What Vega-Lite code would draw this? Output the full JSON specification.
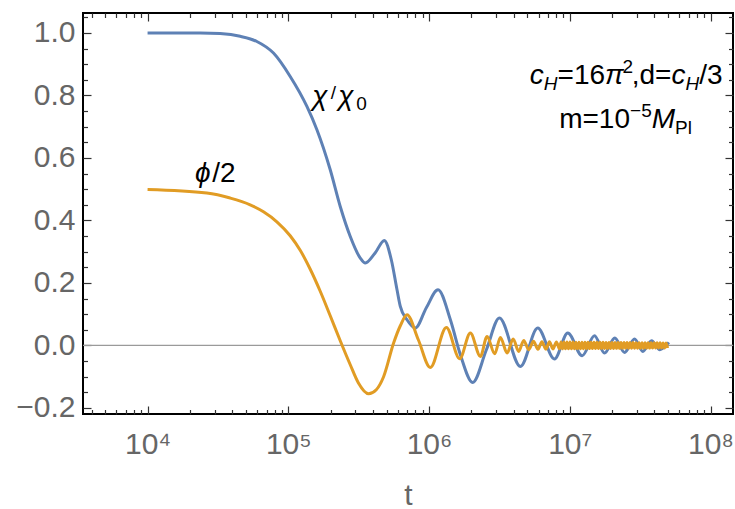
{
  "$schema": "https://vega.github.io/schema/vega-lite/v6.json",
  "autosize": {"type": "none"},
  "padding": {"left": 83, "top": 13, "right": 2, "bottom": 95},
  "width": 650,
  "height": 401,
  "background": "white",
  "config": {"view": {"stroke": "#000000", "strokeWidth": 2}},
  "datasets": {
    "blue": [
      {"t": 10000, "y": 1.0}, {"t": 23620, "y": 1.0}, {"t": 32780, "y": 0.998}, {"t": 45490, "y": 0.9894},
      {"t": 59790, "y": 0.9728}, {"t": 78460, "y": 0.9357}, {"t": 103160, "y": 0.8608}, {"t": 135600, "y": 0.7648},
      {"t": 159700, "y": 0.6902}, {"t": 198600, "y": 0.5622}, {"t": 233900, "y": 0.4448}, {"t": 275600, "y": 0.3488},
      {"t": 324600, "y": 0.2797}, {"t": 352300, "y": 0.2637}, {"t": 415000, "y": 0.2966}, {"t": 481000, "y": 0.336},
      {"t": 539400, "y": 0.2742}, {"t": 592200, "y": 0.1782}, {"t": 625100, "y": 0.1248}, {"t": 697500, "y": 0.0822},
      {"t": 799000, "y": 0.0557}, {"t": 956800, "y": 0.1206}, {"t": 1159000, "y": 0.1782}, {"t": 1418000, "y": 0.0822},
      {"t": 1670000, "y": -0.0298}, {"t": 2042000, "y": -0.1184}, {"t": 2556000, "y": -0.0138}, {"t": 3162000, "y": 0.0877},
      {"t": 4460000, "y": -0.0672}, {"t": 5920000, "y": 0.0557}, {"t": 7784000, "y": -0.0435}, {"t": 9678000, "y": 0.0397},
      {"t": 12250000, "y": -0.033}, {"t": 14985000, "y": 0.031}, {"t": 17653000, "y": -0.0243}, {"t": 20890000, "y": 0.0237},
      {"t": 24490000, "y": -0.0224}, {"t": 28860000, "y": 0.0205}, {"t": 33050000, "y": -0.0192}, {"t": 38110000, "y": 0.015},
      {"t": 43670000, "y": -0.0138}, {"t": 50600000, "y": 0.0096}
    ],
    "orange": [
      {"t": 10000, "y": 0.4992}, {"t": 26370, "y": 0.4877}, {"t": 38630, "y": 0.4717}, {"t": 53580, "y": 0.4502},
      {"t": 66620, "y": 0.4278}, {"t": 82950, "y": 0.3958}, {"t": 103160, "y": 0.351}, {"t": 121500, "y": 0.3046},
      {"t": 143200, "y": 0.2438}, {"t": 168600, "y": 0.1734}, {"t": 198600, "y": 0.095}, {"t": 233900, "y": 0.015},
      {"t": 275600, "y": -0.0618}, {"t": 314200, "y": -0.1194}, {"t": 371900, "y": -0.1546}, {"t": 421900, "y": -0.1418},
      {"t": 475500, "y": -0.1002}, {"t": 560100, "y": 0.0077}, {"t": 625100, "y": 0.063}, {"t": 697500, "y": 0.0982},
      {"t": 839200, "y": 0.0182}, {"t": 1021400, "y": -0.0704}, {"t": 1327400, "y": 0.0576}, {"t": 1650700, "y": -0.0426},
      {"t": 1966600, "y": 0.0397}, {"t": 2317300, "y": -0.0352}, {"t": 2585600, "y": 0.0288}, {"t": 2928200, "y": -0.0266},
      {"t": 3214600, "y": 0.0256}, {"t": 3588000, "y": -0.0243}, {"t": 3958000, "y": 0.0205}, {"t": 4339000, "y": -0.0192},
      {"t": 4708000, "y": 0.016}, {"t": 5110000, "y": -0.0138},
      {"t": 5520000, "y": 0.013}, {"t": 5940000, "y": -0.0125}, {"t": 6340000, "y": 0.012}, {"t": 6770000, "y": -0.0118},
      {"t": 7170000, "y": 0.0116}, {"t": 7590000, "y": -0.0114}, {"t": 8040000, "y": 0.0112},
      {"t": 8450000, "y": -0.011}, {"t": 8660000, "y": 0.011}, {"t": 8870000, "y": -0.0109}, {"t": 9090000, "y": 0.0109},
      {"t": 9320000, "y": -0.0108}, {"t": 9550000, "y": 0.0108}, {"t": 9790000, "y": -0.0108}, {"t": 10030000, "y": 0.0107},
      {"t": 10280000, "y": -0.0107}, {"t": 10540000, "y": 0.0106}, {"t": 10800000, "y": -0.0106}, {"t": 11070000, "y": 0.0105},
      {"t": 11340000, "y": -0.0105}, {"t": 11620000, "y": 0.0105}, {"t": 11910000, "y": -0.0104}, {"t": 12210000, "y": 0.0104},
      {"t": 12510000, "y": -0.0103}, {"t": 12820000, "y": 0.0103}, {"t": 13150000, "y": -0.0103}, {"t": 13480000, "y": 0.0102},
      {"t": 13810000, "y": -0.0102}, {"t": 14150000, "y": 0.0101}, {"t": 14500000, "y": -0.0101}, {"t": 14860000, "y": 0.01},
      {"t": 15230000, "y": -0.01}, {"t": 15610000, "y": 0.01}, {"t": 16000000, "y": -0.0099}, {"t": 16400000, "y": 0.0099},
      {"t": 16810000, "y": -0.0098}, {"t": 17230000, "y": 0.0098}, {"t": 17660000, "y": -0.0097}, {"t": 18100000, "y": 0.0097},
      {"t": 18540000, "y": -0.0097}, {"t": 19000000, "y": 0.0096}, {"t": 19480000, "y": -0.0096}, {"t": 19960000, "y": 0.0095},
      {"t": 20460000, "y": -0.0095}, {"t": 20970000, "y": 0.0095}, {"t": 21490000, "y": -0.0094}, {"t": 22020000, "y": 0.0094},
      {"t": 22570000, "y": -0.0093}, {"t": 23130000, "y": 0.0093}, {"t": 23710000, "y": -0.0093}, {"t": 24300000, "y": 0.0092},
      {"t": 24900000, "y": -0.0092}, {"t": 25520000, "y": 0.0091}, {"t": 26160000, "y": -0.0091}, {"t": 26810000, "y": 0.009},
      {"t": 27470000, "y": -0.009}, {"t": 28150000, "y": 0.009}, {"t": 28860000, "y": -0.0089}, {"t": 29580000, "y": 0.0089},
      {"t": 30310000, "y": -0.0088}, {"t": 31060000, "y": 0.0088}, {"t": 31840000, "y": -0.0088}, {"t": 32630000, "y": 0.0087},
      {"t": 33440000, "y": -0.0087}, {"t": 34270000, "y": 0.0086}, {"t": 35130000, "y": -0.0086}, {"t": 36000000, "y": 0.0085},
      {"t": 36900000, "y": -0.0085}, {"t": 37820000, "y": 0.0085}, {"t": 38760000, "y": -0.0084}, {"t": 39720000, "y": 0.0084},
      {"t": 40710000, "y": -0.0083}, {"t": 41720000, "y": 0.0083}, {"t": 42760000, "y": -0.0083}, {"t": 43820000, "y": 0.0082},
      {"t": 44910000, "y": -0.0082}, {"t": 46030000, "y": 0.0081}, {"t": 47170000, "y": -0.0081}, {"t": 48340000, "y": 0.008},
      {"t": 49540000, "y": -0.008}
    ],
    "ti": [
      {"t": 5202000, "y": 0.8374, "label": "c"}, {"t": 17830000, "y": 0.8374, "label": "π"},
      {"t": 52790000, "y": 0.8374, "label": "c"}, {"t": 38240000, "y": 0.6966, "label": "M"},
      {"t": 147900, "y": 0.7702, "label": "χ"}, {"t": 226400, "y": 0.7702, "label": "χ"},
      {"t": 21770, "y": 0.5238, "label": "ϕ"}
    ],
    "tu": [
      {"t": 8188000, "y": 0.8374, "label": "=16"}, {"t": 27560000, "y": 0.8374, "label": ",d="},
      {"t": 83100000, "y": 0.8374, "label": "/3"}, {"t": 8406000, "y": 0.6966, "label": "m=10"},
      {"t": 28770, "y": 0.5238, "label": "/2"}
    ],
    "tsi": [
      {"t": 6543000, "y": 0.8182, "label": "H"}, {"t": 66400000, "y": 0.8182, "label": "H"}
    ],
    "tsu": [
      {"t": 23710000, "y": 0.8726, "label": "2"}, {"t": 26810000, "y": 0.7318, "label": "−5"},
      {"t": 56010000, "y": 0.6774, "label": "Pl"}, {"t": 304000, "y": 0.7542, "label": "0"},
      {"t": 200200, "y": 0.7894, "label": "/"}
    ]
  },
  "resolve": {"axis": {"x": "independent", "y": "independent"}},
  "layer": [
    {
      "data": {"values": [{"z": 0}]},
      "mark": {"type": "rule", "color": "#9a9a9a", "strokeWidth": 1.2},
      "encoding": {
        "y": {"field": "z", "type": "quantitative", "scale": {"domain": [-0.2195, 1.064], "nice": false, "zero": false}, "axis": null}
      }
    },
    {
      "data": {"name": "blue"},
      "mark": {"type": "line", "color": "#5E81B5", "strokeWidth": 3, "interpolate": "monotone"},
      "encoding": {
        "x": {"field": "t", "type": "quantitative",
          "scale": {"type": "log", "domain": [3477, 144500000], "nice": false},
          "axis": {"orient": "bottom", "values": [10000, 100000, 1000000, 10000000, 100000000],
            "ticks": false, "tickSize": 0, "domain": false, "grid": false,
            "labelExpr": "datum.value < 50000 ? '10⁴' : datum.value < 500000 ? '10⁵' : datum.value < 5000000 ? '10⁶' : datum.value < 50000000 ? '10⁷' : '10⁸'",
            "labelFont": "Liberation Sans", "labelFontSize": 30, "labelColor": "#666666", "labelPadding": 15,
            "labelFlush": false, "labelOverlap": false,
            "title": "t", "titleFont": "Liberation Sans", "titleFontSize": 30, "titleFontWeight": "normal",
            "titleColor": "#666666", "titleY": 90, "titleBaseline": "alphabetic"}},
        "y": {"field": "y", "type": "quantitative",
          "scale": {"domain": [-0.2195, 1.064], "nice": false, "zero": false},
          "axis": {"orient": "left", "values": [-0.2, 0, 0.2, 0.4, 0.6, 0.8, 1.0], "format": ".1f",
            "ticks": false, "tickSize": 0, "domain": false, "grid": false,
            "labelFont": "Liberation Sans", "labelFontSize": 30, "labelColor": "#666666", "labelPadding": 8,
            "labelFlush": false, "labelOverlap": false, "title": null}}
      }
    },
    {
      "data": {"name": "orange"},
      "mark": {"type": "line", "color": "#E19C24", "strokeWidth": 3, "interpolate": "monotone"},
      "encoding": {
        "x": {"field": "t", "type": "quantitative",
          "scale": {"type": "log", "domain": [3477, 144500000], "nice": false},
          "axis": {"orient": "bottom", "values": [10000, 100000, 1000000, 10000000, 100000000],
            "labels": false, "tickSize": -8, "tickColor": "#333333", "tickWidth": 1.2, "domain": false, "grid": false, "title": null}},
        "y": {"field": "y", "type": "quantitative",
          "scale": {"domain": [-0.2195, 1.064], "nice": false, "zero": false},
          "axis": {"orient": "left", "values": [-0.2, 0, 0.2, 0.4, 0.6, 0.8, 1.0],
            "labels": false, "tickSize": -8, "tickColor": "#333333", "tickWidth": 1.2, "domain": false, "grid": false, "title": null}}
      }
    },
    {
      "data": {"name": "ti"},
      "mark": {"type": "text", "align": "left", "baseline": "alphabetic", "font": "Liberation Sans", "fontSize": 28, "fontStyle": "italic", "color": "#000000"},
      "encoding": {
        "x": {"field": "t", "type": "quantitative",
          "scale": {"type": "log", "domain": [3477, 144500000], "nice": false},
          "axis": {"orient": "bottom",
            "values": [4000, 5000, 6000, 7000, 8000, 9000, 20000, 30000, 40000, 50000, 60000, 70000, 80000, 90000, 200000, 300000, 400000, 500000, 600000, 700000, 800000, 900000, 2000000, 3000000, 4000000, 5000000, 6000000, 7000000, 8000000, 9000000, 20000000, 30000000, 40000000, 50000000, 60000000, 70000000, 80000000, 90000000],
            "labels": false, "tickSize": -4.5, "tickColor": "#333333", "tickWidth": 1.2, "domain": false, "grid": false, "title": null}},
        "y": {"field": "y", "type": "quantitative",
          "scale": {"domain": [-0.2195, 1.064], "nice": false, "zero": false},
          "axis": {"orient": "left",
            "values": [-0.15, -0.1, -0.05, 0.05, 0.1, 0.15, 0.25, 0.3, 0.35, 0.45, 0.5, 0.55, 0.65, 0.7, 0.75, 0.85, 0.9, 0.95, 1.05],
            "labels": false, "tickSize": -4.5, "tickColor": "#333333", "tickWidth": 1.2, "domain": false, "grid": false, "title": null}},
        "text": {"field": "label"}
      }
    },
    {
      "data": {"name": "tu"},
      "mark": {"type": "text", "align": "left", "baseline": "alphabetic", "font": "Liberation Sans", "fontSize": 28, "color": "#000000"},
      "encoding": {
        "x": {"field": "t", "type": "quantitative",
          "scale": {"type": "log", "domain": [3477, 144500000], "nice": false},
          "axis": {"orient": "top", "values": [10000, 100000, 1000000, 10000000, 100000000],
            "labels": false, "tickSize": -8, "tickColor": "#333333", "tickWidth": 1.2, "domain": false, "grid": false, "title": null}},
        "y": {"field": "y", "type": "quantitative",
          "scale": {"domain": [-0.2195, 1.064], "nice": false, "zero": false},
          "axis": {"orient": "right", "values": [-0.2, 0, 0.2, 0.4, 0.6, 0.8, 1.0],
            "labels": false, "tickSize": -8, "tickColor": "#333333", "tickWidth": 1.2, "domain": false, "grid": false, "title": null}},
        "text": {"field": "label"}
      }
    },
    {
      "data": {"name": "tsi"},
      "mark": {"type": "text", "align": "left", "baseline": "alphabetic", "font": "Liberation Sans", "fontSize": 19, "fontStyle": "italic", "color": "#000000"},
      "encoding": {
        "x": {"field": "t", "type": "quantitative",
          "scale": {"type": "log", "domain": [3477, 144500000], "nice": false},
          "axis": {"orient": "top",
            "values": [4000, 5000, 6000, 7000, 8000, 9000, 20000, 30000, 40000, 50000, 60000, 70000, 80000, 90000, 200000, 300000, 400000, 500000, 600000, 700000, 800000, 900000, 2000000, 3000000, 4000000, 5000000, 6000000, 7000000, 8000000, 9000000, 20000000, 30000000, 40000000, 50000000, 60000000, 70000000, 80000000, 90000000],
            "labels": false, "tickSize": -4.5, "tickColor": "#333333", "tickWidth": 1.2, "domain": false, "grid": false, "title": null}},
        "y": {"field": "y", "type": "quantitative",
          "scale": {"domain": [-0.2195, 1.064], "nice": false, "zero": false},
          "axis": {"orient": "right",
            "values": [-0.15, -0.1, -0.05, 0.05, 0.1, 0.15, 0.25, 0.3, 0.35, 0.45, 0.5, 0.55, 0.65, 0.7, 0.75, 0.85, 0.9, 0.95, 1.05],
            "labels": false, "tickSize": -4.5, "tickColor": "#333333", "tickWidth": 1.2, "domain": false, "grid": false, "title": null}},
        "text": {"field": "label"}
      }
    },
    {
      "data": {"name": "tsu"},
      "mark": {"type": "text", "align": "left", "baseline": "alphabetic", "font": "Liberation Sans", "fontSize": 19, "color": "#000000"},
      "encoding": {
        "x": {"field": "t", "type": "quantitative", "scale": {"type": "log", "domain": [3477, 144500000], "nice": false}, "axis": null},
        "y": {"field": "y", "type": "quantitative", "scale": {"domain": [-0.2195, 1.064], "nice": false, "zero": false}, "axis": null},
        "text": {"field": "label"}
      }
    }
  ]
}
